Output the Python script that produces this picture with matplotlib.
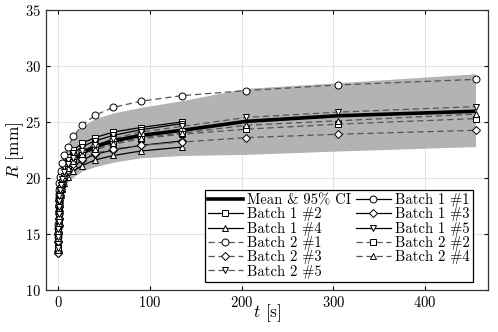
import numpy as np
import matplotlib
matplotlib.use("Agg")
import matplotlib.pyplot as plt
from matplotlib.lines import Line2D

plt.rcParams['font.family'] = 'cmr10'
plt.rcParams['mathtext.fontset'] = 'cm'
plt.rcParams['axes.formatter.use_mathtext'] = True

# sample times [s]
t = [0, 0.05, 0.1, 0.2, 0.35, 0.55, 0.8, 1.2, 1.8, 2.6, 4, 6.5, 11, 16.5,
     26, 40, 60, 90, 135, 205, 305, 455]

# mean and 95% CI
mean_R = [13.6, 14.6, 15.3, 16.0, 16.7, 17.3, 17.8, 18.3, 18.8, 19.3, 19.8, 20.4,
          21.0, 21.6, 22.2, 22.8, 23.3, 23.8, 24.25, 25.05, 25.55, 25.95]
ci_hi = [14.0, 15.2, 16.0, 16.8, 17.5, 18.2, 18.8, 19.5, 20.1, 20.7, 21.4, 22.3,
         23.2, 23.9, 24.6, 25.3, 25.8, 26.3, 26.9, 28.0, 28.5, 29.3]
ci_lo = [13.2, 14.0, 14.6, 15.2, 15.8, 16.4, 16.9, 17.3, 17.8, 18.2, 18.7, 19.2,
         19.7, 20.1, 20.6, 21.0, 21.4, 21.8, 22.0, 22.1, 22.4, 22.8]

# batch 1 (stops at 135 s)
b1_1 = [13.4, 14.7, 15.5, 16.3, 17.0, 17.6, 18.1, 18.6, 19.1, 19.6, 20.1, 20.7, 21.3, 21.8, 22.4, 22.9, 23.4, 23.8, 24.2]
b1_2 = [13.7, 14.9, 15.7, 16.5, 17.2, 17.8, 18.4, 18.9, 19.4, 19.9, 20.5, 21.2, 21.9, 22.5, 23.1, 23.6, 24.1, 24.5, 25.0]
b1_3 = [13.3, 14.3, 15.0, 15.7, 16.3, 16.9, 17.4, 17.9, 18.4, 18.8, 19.3, 19.9, 20.5, 21.0, 21.6, 22.1, 22.5, 22.9, 23.3]
b1_4 = [13.5, 14.2, 14.8, 15.4, 16.0, 16.6, 17.1, 17.6, 18.0, 18.5, 19.0, 19.5, 20.1, 20.6, 21.1, 21.6, 22.0, 22.4, 22.75]
b1_5 = [13.8, 14.8, 15.6, 16.4, 17.1, 17.7, 18.2, 18.7, 19.2, 19.7, 20.3, 21.0, 21.6, 22.2, 22.8, 23.3, 23.8, 24.3, 24.85]

# batch 2 (full range)
b2_1 = [13.5, 15.0, 15.9, 16.8, 17.6, 18.3, 18.9, 19.5, 20.1, 20.6, 21.3, 22.0, 22.8, 23.7, 24.7, 25.6, 26.3, 26.85, 27.35, 27.8, 28.3, 28.8]
b2_2 = [13.6, 14.5, 15.2, 15.9, 16.5, 17.1, 17.6, 18.1, 18.6, 19.1, 19.6, 20.2, 20.8, 21.4, 22.0, 22.5, 23.0, 23.5, 23.9, 24.35, 24.8, 25.3]
b2_3 = [13.3, 14.4, 15.1, 15.8, 16.4, 17.0, 17.5, 18.0, 18.5, 19.0, 19.5, 20.1, 20.7, 21.2, 21.7, 22.2, 22.6, 22.9, 23.2, 23.6, 23.9, 24.25]
b2_4 = [13.6, 14.6, 15.3, 16.0, 16.6, 17.2, 17.7, 18.2, 18.7, 19.2, 19.7, 20.3, 20.9, 21.5, 22.1, 22.6, 23.1, 23.6, 24.0, 24.7, 25.1, 25.7]
b2_5 = [13.7, 14.7, 15.4, 16.1, 16.8, 17.4, 17.9, 18.4, 18.9, 19.4, 19.9, 20.5, 21.2, 21.8, 22.4, 22.9, 23.5, 24.1, 24.6, 25.4, 25.87, 26.37]

markers = ['o', 's', 'D', '^', 'v']
msizes = {'o': 5, 's': 5, 'D': 3.8, '^': 5, 'v': 5}
dash = (0, (5, 3))
gray = '#555555'

fig = plt.figure(figsize=(4.98, 3.32), dpi=100)
ax = fig.add_axes([0.092, 0.127, 0.888, 0.843])

ax.fill_between(t, ci_lo, ci_hi, color='#b3b3b3', lw=0, zorder=1)
ax.plot(t, mean_R, color='black', lw=2.6, zorder=3, solid_capstyle='butt')

handles = {}
handles['mean'] = Line2D([], [], color='black', lw=2.6)
series = [('Batch 1', [b1_1, b1_2, b1_3, b1_4, b1_5], '-', 'black'),
          ('Batch 2', [b2_1, b2_2, b2_3, b2_4, b2_5], dash, gray)]
for name, data, ls, col in series:
    for i, y in enumerate(data):
        tt = t[:len(y)]
        m = markers[i]
        ax.plot(tt, y, color=col, ls=ls, lw=0.9, zorder=2)
        ax.plot(tt, y, ls='none', marker=m, ms=msizes[m], mfc='white',
                mec='black', mew=0.7, zorder=4)
        handles[f'{name} #{i+1}'] = Line2D([], [], color=col, ls=ls, lw=0.9,
                                           marker=m, ms=msizes[m], mfc='white',
                                           mec='black', mew=0.7)

labels_map = {'mean': 'Mean & 95% CI'}
col1 = ['mean', 'Batch 1 #2', 'Batch 1 #4', 'Batch 2 #1', 'Batch 2 #3', 'Batch 2 #5']
col2 = ['Batch 1 #1', 'Batch 1 #3', 'Batch 1 #5', 'Batch 2 #2', 'Batch 2 #4']
order = col1 + col2
leg = ax.legend([handles[k] for k in order], [labels_map.get(k, k) for k in order],
                ncol=2, loc='lower right', bbox_to_anchor=(0.966, 0.029),
                borderaxespad=0,
                fontsize=10.5, handlelength=2.4, handletextpad=0.3,
                columnspacing=0.3, labelspacing=0.02, borderpad=0.22,
                fancybox=False, framealpha=1, edgecolor='black')
leg.get_frame().set_linewidth(0.9)
leg.set_zorder(5)

ax.set_xlim(-13.65, 468.65)
ax.set_ylim(10, 35)
ax.set_xticks([0, 100, 200, 300, 400])
ax.set_yticks([10, 15, 20, 25, 30, 35])
ax.grid(True, color='#e3e3e3', lw=0.8)
ax.set_axisbelow(True)
ax.tick_params(direction='in', top=True, right=True, labelsize=10.5, length=3, width=0.8)
for s in ax.spines.values():
    s.set_linewidth(0.9)
    s.set_color('#333333')
ax.set_xlabel('$t$ [s]', fontsize=12.5, va='center')
ax.set_ylabel('$R$ [mm]', fontsize=12.5, va='center')
ax.xaxis.set_label_coords(0.5, -0.082)
ax.yaxis.set_label_coords(-0.07, 0.5)

fig.savefig('out.png', dpi=100)
